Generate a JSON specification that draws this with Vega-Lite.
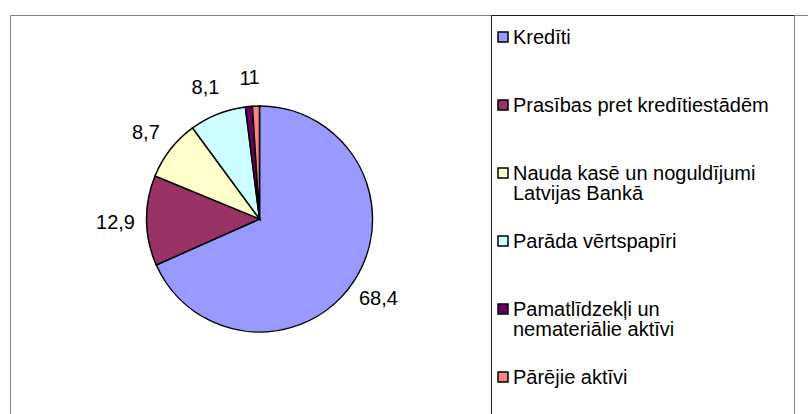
{
  "$schema": "https://vega.github.io/schema/vega-lite/v6.json",
  "padding": {"left": 9, "top": 14, "right": 0, "bottom": 0},
  "background": "white",
  "spacing": 0,
  "bounds": "flush",
  "config": {"font": "Liberation Sans", "concat": {"spacing": 0}},
  "datasets": {
    "assets": [
      {"category": "Kredīti", "legendLabel": "Kredīti", "value": 68.4, "label": "68,4", "order": 1},
      {"category": "Prasības pret kredītiestādēm", "legendLabel": "Prasības pret kredītiestādēm", "value": 12.9, "label": "12,9", "order": 2},
      {"category": "Nauda kasē un noguldījumi Latvijas Bankā", "legendLabel": "Nauda kasē un noguldījumi\nLatvijas Bankā", "value": 8.7, "label": "8,7", "order": 3},
      {"category": "Parāda vērtspapīri", "legendLabel": "Parāda vērtspapīri", "value": 8.1, "label": "8,1", "order": 4},
      {"category": "Pamatlīdzekļi un nemateriālie aktīvi", "legendLabel": "Pamatlīdzekļi un\nnemateriālie aktīvi", "value": 1, "label": "1", "order": 5},
      {"category": "Pārējie aktīvi", "legendLabel": "Pārējie aktīvi", "value": 1, "label": "1", "order": 6}
    ]
  },
  "hconcat": [
    {
      "width": 481,
      "height": 408,
      "view": {"stroke": "#808080", "strokeWidth": 1},
      "data": {"name": "assets"},
      "encoding": {
        "theta": {"field": "value", "type": "quantitative", "stack": true},
        "order": {"field": "order", "type": "quantitative", "sort": "ascending"}
      },
      "layer": [
        {
          "mark": {"type": "arc", "outerRadius": 113, "stroke": "#000000", "strokeWidth": 1.5, "xOffset": 9},
          "encoding": {
            "color": {
              "field": "category",
              "type": "nominal",
              "scale": {
                "domain": ["Kredīti", "Prasības pret kredītiestādēm", "Nauda kasē un noguldījumi Latvijas Bankā", "Parāda vērtspapīri", "Pamatlīdzekļi un nemateriālie aktīvi", "Pārējie aktīvi"],
                "range": ["#9999FF", "#993366", "#FFFFCC", "#CCFFFF", "#660066", "#FF8080"]
              },
              "legend": null
            }
          }
        },
        {
          "mark": {"type": "text", "radius": 143, "xOffset": 8, "yOffset": 2, "font": "Liberation Sans", "fontSize": 20, "fill": "#000000", "align": "center", "baseline": "middle"},
          "encoding": {"text": {"field": "label", "type": "nominal"}}
        }
      ]
    },
    {
      "width": 303,
      "height": 408,
      "view": {"stroke": "#1a1a1a", "strokeWidth": 1},
      "data": {"name": "assets"},
      "encoding": {
        "y": {
          "field": "category",
          "type": "nominal",
          "sort": {"field": "order", "op": "min"},
          "scale": {"type": "point", "range": [22, 362], "padding": 0},
          "axis": null
        }
      },
      "layer": [
        {
          "mark": {"type": "point", "shape": "square", "filled": true, "size": 100, "stroke": "#000000", "strokeWidth": 1.5, "opacity": 1, "x": 12},
          "encoding": {
            "color": {
              "field": "category",
              "type": "nominal",
              "scale": {
                "domain": ["Kredīti", "Prasības pret kredītiestādēm", "Nauda kasē un noguldījumi Latvijas Bankā", "Parāda vērtspapīri", "Pamatlīdzekļi un nemateriālie aktīvi", "Pārējie aktīvi"],
                "range": ["#9999FF", "#993366", "#FFFFCC", "#CCFFFF", "#660066", "#FF8080"]
              },
              "legend": null
            }
          }
        },
        {
          "mark": {"type": "text", "align": "left", "baseline": "alphabetic", "dy": 7, "x": 22, "lineBreak": "\n", "lineHeight": 20, "font": "Liberation Sans", "fontSize": 20, "fill": "#000000"},
          "encoding": {"text": {"field": "legendLabel", "type": "nominal"}}
        }
      ]
    },
    {
      "width": 40,
      "height": 408,
      "view": {"stroke": "#808080", "strokeWidth": 1},
      "data": {"values": [{"blank": ""}]},
      "mark": {"type": "text"},
      "encoding": {"text": {"field": "blank", "type": "nominal"}}
    }
  ]
}
